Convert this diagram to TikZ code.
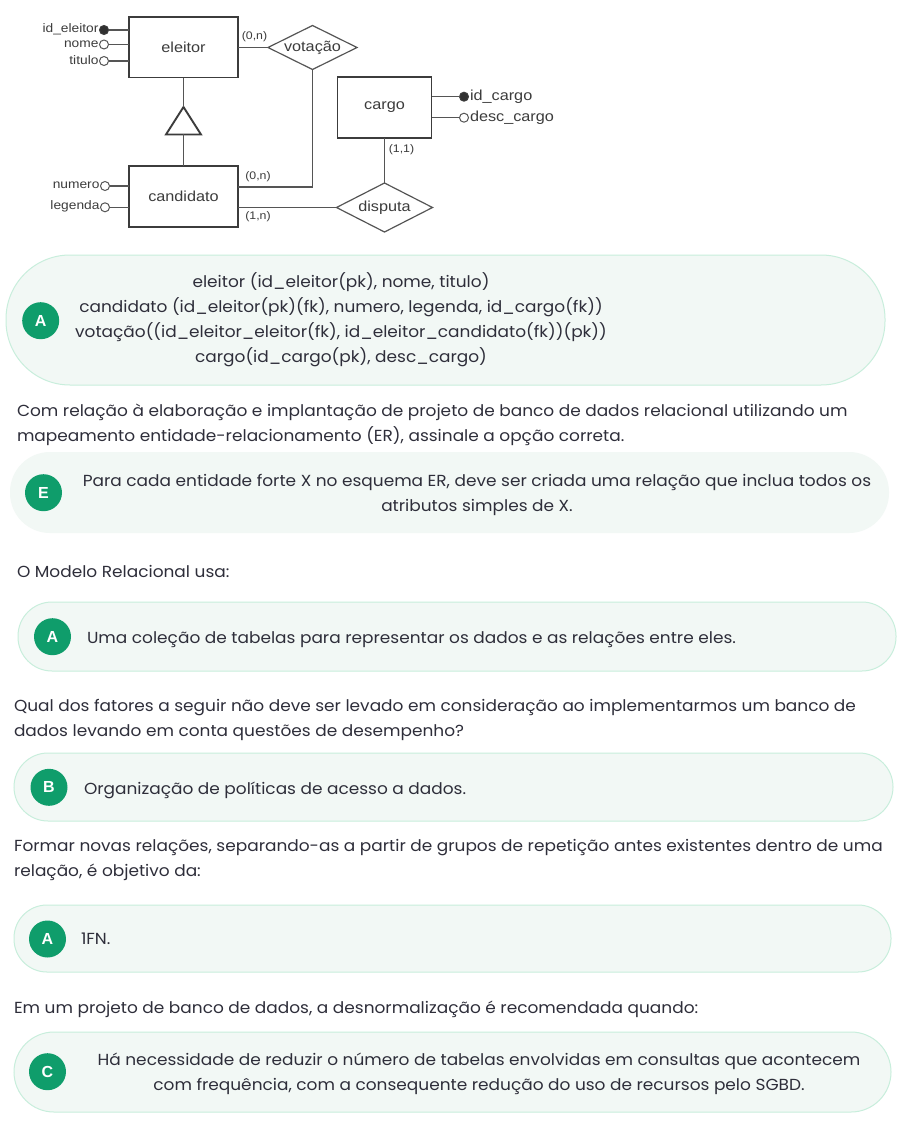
\documentclass[tikz,border=0pt]{standalone}
\usepackage{fontspec}
\setmainfont{Poppins}[FakeStretch=1.06]
\newfontfamily\erfont[FakeStretch=1.12]{Liberation Sans}
\newfontfamily\badgefont{Liberation Sans}
\usetikzlibrary{shapes.geometric}
\definecolor{txt}{HTML}{2E2E3A}
\definecolor{grn}{HTML}{0F9D6B}
\definecolor{boxfill}{HTML}{F2F8F5}
\definecolor{boxline}{HTML}{C8EEDC}
\definecolor{erl}{HTML}{555555}
\definecolor{ert}{HTML}{3C3C3C}
\begin{document}
\begin{tikzpicture}[x=1pt,y=-1pt,
  every node/.style={inner sep=0pt, outer sep=0pt},
  ent/.style={draw=ert, line width=1.5pt, rectangle, font=\erfont\fontsize{14.5}{14.5}\selectfont, text=ert},
  rel/.style={diamond, draw=erl, line width=1.2pt, aspect=2, font=\erfont\fontsize{14.5}{14.5}\selectfont, text=ert},
  att/.style={circle, draw=erl, line width=1pt, minimum size=9pt, fill=white},
  katt/.style={att, draw=ert, fill=ert!80!black},
  alab/.style={font=\erfont\fontsize{12.3}{12.3}\selectfont, text=ert},
  blab/.style={font=\erfont\fontsize{14.5}{14.5}\selectfont, text=ert},
  card/.style={font=\erfont\fontsize{11}{11}\selectfont, text=ert},
  erln/.style={draw=erl, line width=1.2pt},
  ansbox/.style={draw=boxline, line width=1pt, fill=boxfill},
  badge/.style={circle, fill=grn, minimum size=37pt, text=white, font=\badgefont\bfseries\fontsize{16}{16}\selectfont},
  body/.style={font=\fontsize{16}{16}\selectfont, text=txt, anchor=base west},
  bodyc/.style={font=\fontsize{16}{16}\selectfont, text=txt, anchor=base},
]
\fill[white] (0,0) rectangle (904,1123);
\useasboundingbox (0,0) rectangle (904,1123);

% ---------------- ER diagram ----------------
\node[ent, minimum width=109pt, minimum height=60.5pt] (eleitor) at (183.5,47.5) {eleitor};
\node[ent, minimum width=109pt, minimum height=61pt] (candidato) at (183.5,196.5) {candidato};
\node[ent, minimum width=94pt, minimum height=61pt] (cargo) at (384.5,107.5) {cargo};
\node[rel, minimum width=89pt, minimum height=44pt] (vot) at (312.5,47.5) {votação};
\node[rel, minimum width=96pt, minimum height=49pt] (disp) at (384.5,207.5) {disputa};

% attributes of eleitor
\node[katt] (ide) at (104,30) {};
\node[att] (nome) at (104,44.5) {};
\node[att] (tit) at (104,61) {};
\node[alab, anchor=east] (lide) at (98.5,29.5) {id\_eleitor};
\node[alab, anchor=east] (lnome) at (98.5,44) {nome};
\node[alab, anchor=east] (ltit) at (98.5,60.5) {titulo};
\draw[erln] (ide) -- (ide -| eleitor.west);
\draw[erln] (nome) -- (nome -| eleitor.west);
\draw[erln] (tit) -- (tit -| eleitor.west);

% attributes of candidato
\node[att] (num) at (105,186) {};
\node[att] (leg) at (105,207.3) {};
\node[alab, anchor=east] (lnum) at (99.5,185.5) {numero};
\node[alab, anchor=east] (lleg) at (99.5,206.8) {legenda};
\draw[erln] (num) -- (num -| candidato.west);
\draw[erln] (leg) -- (leg -| candidato.west);

% attributes of cargo
\node[katt] (idc) at (464,96.7) {};
\node[att] (desc) at (464,117.7) {};
\node[blab, anchor=west] (lidc) at (470,96.7) {id\_cargo};
\node[blab, anchor=west] (ldesc) at (470,117.7) {desc\_cargo};
\draw[erln] (idc) -- (idc -| cargo.east);
\draw[erln] (desc) -- (desc -| cargo.east);

% specialization triangle
\coordinate (isatop) at (183.5,107);
\coordinate (isabl) at (166,134.5);
\coordinate (isabr) at (201,134.5);
\coordinate (isabot) at (183.5,134.5);
\draw[draw=ert, line width=1.9pt, line join=miter] (isatop) -- (isabl) -- (isabr) -- cycle;
\draw[erln] (eleitor.south) -- (isatop);
\draw[erln] (isabot) -- (candidato.north);

% relationships
\draw[erln] (eleitor.east) -- (vot.west);
\draw[erln] (vot.south) |- ([yshift=9.5pt]candidato.east);
\draw[erln] ([yshift=-11pt]candidato.east) -- ([yshift=-11pt]candidato.east -| disp.west);
\draw[erln] (cargo.south) -- (disp.north);

% cardinalities
\node[card] (c1) at (254.5,37) {(0,n)};
\node[card] (c2) at (258,177) {(0,n)};
\node[card] (c3) at (258,217) {(1,n)};
\node[card] (c4) at (401.5,150) {(1,1)};

% ---------------- answer 1 ----------------
\draw[ansbox, rounded corners=64pt] (6,255) rectangle (885,385);
\node[badge] (b1) at (40.7,320.7) {A};
\node[bodyc] (a1l1) at (341,287) {eleitor (id\_eleitor(pk), nome, titulo)};
\node[bodyc] (a1l2) at (341,312.3) {candidato (id\_eleitor(pk)(fk), numero, legenda, id\_cargo(fk))};
\node[bodyc] (a1l3) at (341,337.3) {votação((id\_eleitor\_eleitor(fk), id\_eleitor\_candidato(fk))(pk))};
\node[bodyc] (a1l4) at (341,362.3) {cargo(id\_cargo(pk), desc\_cargo)};

% ---------------- question 2 ----------------
\node[body] (q2l1) at (17,416) {Com relação à elaboração e implantação de projeto de banco de dados relacional utilizando um};
\node[body] (q2l2) at (17,441) {mapeamento entidade-relacionamento (ER), assinale a opção correta.};
\fill[boxfill, rounded corners=40pt] (10,452) rectangle (889,533);
\node[badge] (b2) at (43.5,492.7) {E};
\node[bodyc] (a2l1) at (477,486) {Para cada entidade forte X no esquema ER, deve ser criada uma relação que inclua todos os};
\node[bodyc] (a2l2) at (477,511) {atributos simples de X.};

% ---------------- question 3 ----------------
\node[body] (q3l1) at (17,577) {O Modelo Relacional usa:};
\draw[ansbox, rounded corners=34pt] (18,602) rectangle (896,671);
\node[badge] (b3) at (52.5,636.7) {A};
\node[body] (a3l1) at (87,643) {Uma coleção de tabelas para representar os dados e as relações entre eles.};

% ---------------- question 4 ----------------
\node[body] (q4l1) at (14,711.5) {Qual dos fatores a seguir não deve ser levado em consideração ao implementarmos um banco de};
\node[body] (q4l2) at (14,736.5) {dados levando em conta questões de desempenho?};
\draw[ansbox, rounded corners=34pt] (14,753) rectangle (893,821);
\node[badge] (b4) at (49,787.3) {B};
\node[body] (a4l1) at (84,794) {Organização de políticas de acesso a dados.};

% ---------------- question 5 ----------------
\node[body] (q5l1) at (14,851) {Formar novas relações, separando-as a partir de grupos de repetição antes existentes dentro de uma};
\node[body] (q5l2) at (14,876) {relação, é objetivo da:};
\draw[ansbox, rounded corners=33pt] (14,905) rectangle (891,972);
\node[badge] (b5) at (47.5,939) {A};
\node[body] (a5l1) at (81,944.3) {1FN.};

% ---------------- question 6 ----------------
\node[body] (q6l1) at (14,1013) {Em um projeto de banco de dados, a desnormalização é recomendada quando:};
\draw[ansbox, rounded corners=40pt] (14,1032) rectangle (891,1112);
\node[badge] (b6) at (47.5,1071.7) {C};
\node[bodyc] (a6l1) at (479,1065) {Há necessidade de reduzir o número de tabelas envolvidas em consultas que acontecem};
\node[bodyc] (a6l2) at (479,1090) {com frequência, com a consequente redução do uso de recursos pelo SGBD.};
\end{tikzpicture}
\end{document}
